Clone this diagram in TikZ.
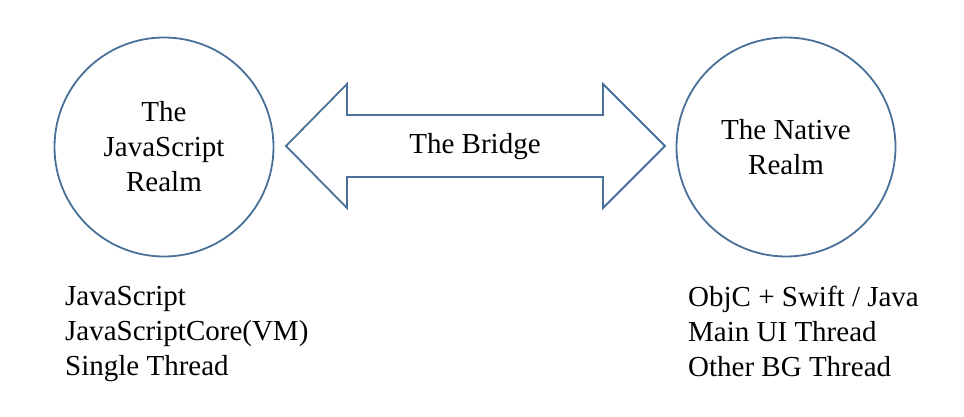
\documentclass[tikz,border=0pt]{standalone}
\usepackage{fontspec}
\setmainfont{Liberation Serif}
\definecolor{edgeblue}{RGB}{72,112,152}
\begin{document}
\begin{tikzpicture}[x=1pt,y=-1pt,
  realm/.style={circle,draw=edgeblue,line width=1.8pt,minimum size=219pt,inner sep=0pt,align=center,font=\fontsize{29}{35}\selectfont},
  bigtxt/.style={font=\fontsize{29}{35}\selectfont,inner sep=0pt},
  listtxt/.style={bigtxt,align=left,anchor=north west}]
\useasboundingbox (0,0) rectangle (964,416);
\node[realm] (js) at (164,147) {The\\JavaScript\\Realm};
\node[realm] (nat) at (786,147) {The Native\\Realm};
% double arrow (the bridge)
\coordinate (lt) at (286,146);
\coordinate (rt) at (665,146);
\draw[edgeblue,line width=1.8pt,line join=miter]
  (lt) -- (347,84) -- (347,115) -- (603,115) -- (603,84) -- (rt)
  -- (603,208) -- (603,177) -- (347,177) -- (347,208) -- cycle;
\node[bigtxt] (bridge) at (475,147) {The Bridge};
\node[listtxt] (jslist) at (65,286) {JavaScript\\JavaScriptCore(VM)\\Single Thread};
\node[listtxt] (natlist) at (688,286) {ObjC + Swift / Java\\Main UI Thread\\Other BG Thread};
\end{tikzpicture}
\end{document}
